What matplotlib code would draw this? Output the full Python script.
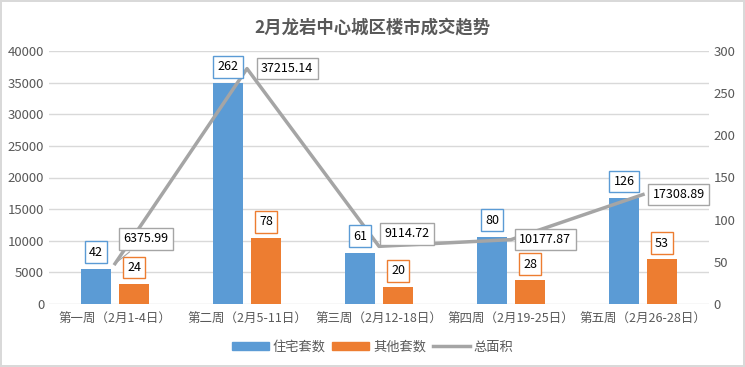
import matplotlib.pyplot as plt
from matplotlib.patches import Patch
from matplotlib.lines import Line2D

plt.rcParams['font.family'] = ['Noto Sans CJK SC', 'DejaVu Sans']

categories = ['第一周（2月1-4日）', '第二周（2月5-11日）', '第三周（2月12-18日）',
              '第四周（2月19-25日）', '第五周（2月26-28日）']
homes = [42, 262, 61, 80, 126]
others = [24, 78, 20, 28, 53]
area = [6375.99, 37215.14, 9114.72, 10177.87, 17308.89]
area_ticks = list(range(0, 40001, 5000))
count_ticks = list(range(0, 301, 50))

blue = '#5B9BD5'
orange = '#ED7D31'
grey = '#A5A5A5'
txt = '#595959'

fig = plt.figure(figsize=(7.45, 3.67), dpi=100)
fig.patch.set_edgecolor('#D9D9D9')
fig.patch.set_linewidth(1.5)
ax = fig.add_axes([49/745, 1-304/367, 660/745, 253/367])
ax2 = ax.twinx()

x = list(range(len(categories)))
w = 0.227
off = 0.144

# grid lines follow the left (area) scale
for t in area_ticks:
    ax.axhline(t * 300 / 40000, color='#D9D9D9', lw=1, zorder=0)

b1 = ax.bar([i - off for i in x], homes, w, color=blue, zorder=2)
b2 = ax.bar([i + off for i in x], others, w, color=orange, zorder=2)
ax.set_ylim(0, 300)
ax.set_xlim(-0.5, 4.5)
ax.set_yticks(count_ticks)
ax.yaxis.tick_right()
ax.set_xticks(x)
ax.set_xticklabels(categories)

ax2.plot(x, area, color=grey, lw=2.5, zorder=3)
ax2.set_ylim(0, 40000)
ax2.set_yticks(area_ticks)
ax2.yaxis.tick_left()

# bar labels drawn on the top axes so the line passes behind them
for bars, vals, col in [(b1, homes, blue), (b2, others, orange)]:
    for r, v in zip(bars, vals):
        ax2.annotate(str(v), (r.get_x() + r.get_width()/2, r.get_height()),
                     xycoords=ax.transData,
                     xytext=(0, 7), textcoords='offset points', ha='center', va='bottom',
                     fontsize=9, color='black', zorder=5,
                     bbox=dict(boxstyle='square,pad=0.35', fc='white', ec=col, lw=1))

offsets = [(6, 18), (10, 0), (4, 9), (6, 0), (7, 0)]
for i, (v, o) in enumerate(zip(area, offsets)):
    ap = dict(arrowstyle='-', color=grey, lw=0.8) if i == 0 else None
    ax2.annotate(f'{v:.2f}', (i, v), xytext=o, textcoords='offset points',
                 ha='left', va='center', fontsize=9, color='black',
                 arrowprops=ap, zorder=5,
                 bbox=dict(boxstyle='square,pad=0.35', fc='white', ec=grey, lw=1))

for a in (ax, ax2):
    for s in a.spines.values():
        s.set_visible(False)
    a.tick_params(length=0, labelsize=9.5, colors=txt)
ax.tick_params(axis='x', pad=6, labelsize=9)

fig.text(0.5, 0.925, '2月龙岩中心城区楼市成交趋势', ha='center', va='center',
         fontsize=12.5, fontweight='bold', color=txt)

handles = [Patch(color=blue), Patch(color=orange), Line2D([], [], color=grey, lw=2.5)]
fig.legend(handles, ['住宅套数', '其他套数', '总面积'], loc='center', ncol=3,
           bbox_to_anchor=(0.5, 1-347/367), frameon=False, fontsize=9.5,
           handlelength=2.8, handleheight=0.6, columnspacing=0.5, handletextpad=0.3,
           labelcolor=txt)

fig.savefig('out.png', dpi=100)
